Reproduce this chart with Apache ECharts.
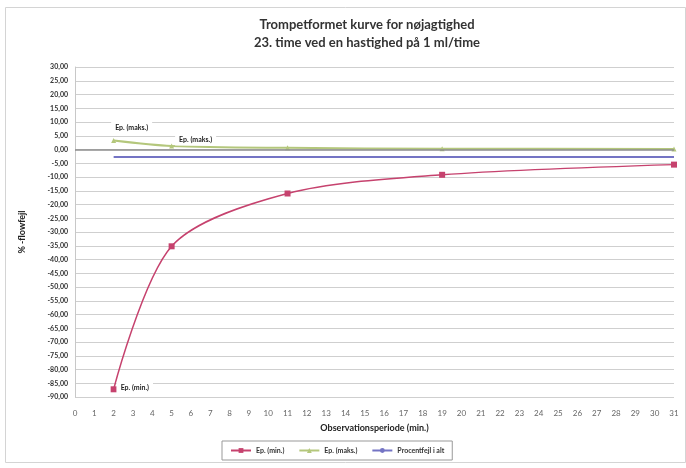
<!DOCTYPE html>
<html>
<head>
<meta charset="utf-8">
<script src="https://cdn.jsdelivr.net/npm/echarts@6/dist/echarts.min.js"></script>
<style>
html,body{margin:0;padding:0;background:#fff;}
#c{width:686px;height:468px;}
</style>
</head>
<body>
<div id="c"></div>
<script>
var titleLines = ['Trompetformet kurve for nøjagtighed', '23. time ved en hastighed på 1 ml/time'];
var seriesNames = ['Ep. (min.)', 'Ep. (maks.)', 'Procentfejl i alt'];
var xValues = [2, 5, 11, 19, 31];
var epMin = [-87.2, -35.2, -16.0, -9.2, -5.5];
var epMaks = [3.3, 1.3, 0.6, 0.3, 0.2];
var procentfejl = [-2.7, -2.7, -2.7, -2.7, -2.7];
var yTicks = { min: -90, max: 30, step: 5 };
var xTicks = { min: 0, max: 31, step: 1 };
var yAxisName = '% -flowfejl';
var xAxisName = 'Observationsperiode (min.)';

function pairs(xs, ys){ return xs.map(function(x,i){ return [x, ys[i]]; }); }

var FONT = 'Lato, "Open Sans", sans-serif';
var chart = echarts.init(document.getElementById('c'), null, {renderer:'canvas'});

var maksData = pairs(xValues, epMaks);
maksData[0] = { value: maksData[0], label: { show: true, position: 'right', offset: [-10, -13] } };
maksData[1] = { value: maksData[1], label: { show: true, position: 'right', offset: [-4, -6] } };
var minData = pairs(xValues, epMin);
minData[0] = { value: minData[0], label: { show: true, position: 'right', offset: [-5, -2] } };

var labelStyle = {
  show: false, formatter: '{a}', fontSize: 7, fontWeight: 'bold', color: '#222',
  fontFamily: FONT, backgroundColor: '#fff', padding: [2, 4]
};

chart.setOption({
  animation: false,
  backgroundColor: '#fff',
  textStyle: { fontFamily: FONT },
  title: {
    text: titleLines.join('\n'),
    left: 362, top: 11, textAlign: 'center',
    textStyle: { fontSize: 13, fontWeight: 'bold', color: '#333', lineHeight: 18, fontFamily: FONT }
  },
  graphic: [{
    type: 'rect', shape: { x: 5.5, y: 7.5, width: 680, height: 455 },
    style: { fill: 'none', stroke: '#d4d4d4', lineWidth: 1 }, silent: true, z: -1
  }],
  grid: { left: 75, right: 12, top: 67, bottom: 71 },
  legend: {
    data: seriesNames,
    left: 222, top: 441, width: 257, height: 20,
    itemWidth: 20, itemHeight: 6, itemGap: 14,
    borderColor: '#999', borderWidth: 1, padding: [6, 8],
    textStyle: { fontSize: 7, fontWeight: 'bold', color: '#333', fontFamily: FONT }
  },
  xAxis: {
    type: 'value', min: xTicks.min, max: xTicks.max, interval: xTicks.step,
    name: xAxisName, nameLocation: 'middle', nameGap: 27,
    nameTextStyle: { fontSize: 9, fontWeight: 'bold', color: '#222', fontFamily: FONT },
    axisLine: { show: false }, axisTick: { show: false }, splitLine: { show: false },
    axisLabel: { fontSize: 8, color: '#666', margin: 12, fontFamily: FONT }
  },
  yAxis: {
    type: 'value', min: yTicks.min, max: yTicks.max, interval: yTicks.step,
    name: yAxisName, nameLocation: 'middle', nameGap: 48, nameRotate: 90,
    nameTextStyle: { fontSize: 9, fontWeight: 'bold', color: '#222', fontFamily: FONT },
    axisLine: { show: true, lineStyle: { color: '#c8c8c8' } },
    axisTick: { show: false },
    splitLine: { lineStyle: { color: '#cfcfcf', width: 1.2 } },
    axisLabel: {
      fontSize: 7, fontWeight: 'bold', color: '#333', margin: 7, fontFamily: FONT,
      formatter: function(v){ return v.toFixed(2).replace('.', ','); }
    }
  },
  series: [
    {
      name: seriesNames[0], type: 'line', data: minData, smooth: 0.3,
      symbol: 'rect', symbolSize: 6,
      itemStyle: { color: '#c6426e' }, lineStyle: { color: '#c6426e', width: 1.5 },
      label: labelStyle, z: 4
    },
    {
      name: seriesNames[1], type: 'line', data: maksData, smooth: 0.3,
      symbol: 'triangle', symbolSize: 5,
      itemStyle: { color: '#b4c77c' }, lineStyle: { color: '#b4c77c', width: 2 },
      label: labelStyle, z: 3,
      markLine: {
        silent: true, symbol: 'none', label: { show: false },
        lineStyle: { color: '#8c8c8c', width: 1.5, type: 'solid' },
        data: [{ yAxis: 0 }]
      }
    },
    {
      name: seriesNames[2], type: 'line', data: pairs(xValues, procentfejl),
      symbol: 'none', showSymbol: false,
      itemStyle: { color: '#7474c4' }, lineStyle: { color: '#7474c4', width: 2 }, z: 2
    }
  ]
});
</script>
</body>
</html>
